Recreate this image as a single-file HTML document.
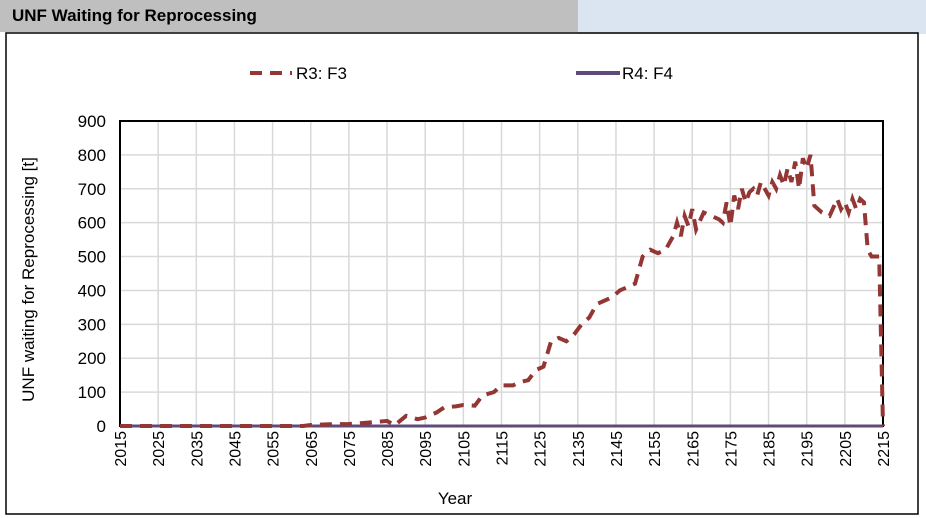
<!DOCTYPE html>
<html><head><meta charset="utf-8"><style>
body{margin:0;width:926px;height:518px;background:#fff;font-family:"Liberation Sans",sans-serif;overflow:hidden;position:relative}
</style></head><body>
<div style="position:absolute;left:578px;top:0;width:348px;height:34px;background:#dbe5f1"></div>
<div style="position:absolute;left:0;top:0;width:578px;height:32px;background:#bfbfbf;font-weight:bold;font-size:17px;line-height:32px;padding-left:12px;box-sizing:border-box">UNF Waiting for Reprocessing</div>
<svg style="position:absolute;left:0;top:0" width="926" height="518" id="svg"></svg>
<script>
const years=[2015,2063,2065,2070,2075,2080,2085,2087,2090,2093,2095,2098,2100,2103,2105,2108,2110,2113,2115,2118,2120,2122,2124,2126,2128,2130,2132,2134,2136,2138,2140,2142,2144,2146,2148,2150,2152,2154,2156,2158,2160,2161,2162,2163,2164,2165,2166,2168,2170,2172,2173,2174,2175,2176,2177,2178,2179,2180,2181,2182,2183,2184,2185,2186,2187,2188,2189,2190,2191,2192,2193,2194,2195,2196,2197,2199,2201,2203,2204,2205,2206,2207,2208,2209,2210,2211,2212,2214,2215];
const r3=[0,0,3,5,6,10,15,2,30,20,25,40,55,58,62,60,90,100,120,120,130,135,165,175,250,260,250,270,300,320,360,370,380,400,410,420,500,520,510,520,560,600,560,620,590,640,580,630,620,610,600,660,590,680,640,700,660,690,700,680,720,700,680,720,700,740,710,760,720,780,700,790,760,800,650,630,620,670,640,660,630,670,640,670,660,520,500,500,0];
const r4=years.map(()=>0);
const yTicks=[0,100,200,300,400,500,600,700,800,900];
const xTicks=[2015,2025,2035,2045,2055,2065,2075,2085,2095,2105,2115,2125,2135,2145,2155,2165,2175,2185,2195,2205,2215];
const L=120,R=883,T=121,B=426;
const sx=v=>L+(v-2015)/200*(R-L), sy=v=>B-v/900*(B-T);
const svg=document.getElementById('svg');const NS='http://www.w3.org/2000/svg';
function mk(t,a,p){const e=document.createElementNS(NS,t);for(const k in a)e.setAttribute(k,a[k]);(p||svg).appendChild(e);return e;}
const frame=mk('rect',{x:6,y:33,width:912,height:481,fill:'none',stroke:'#000','stroke-width':1.5});


yTicks.forEach(v=>{const g=mk('line',{x1:L,x2:R,y1:sy(v),y2:sy(v),stroke:'#d9d9d9','stroke-width':1.5});


const t=mk('text',{x:106,y:sy(v)+6,'text-anchor':'end','font-size':17});t.textContent=v;

});
xTicks.forEach(v=>{const g=mk('line',{x1:sx(v),x2:sx(v),y1:T,y2:B,stroke:'#d9d9d9','stroke-width':1.5});


const t=mk('text',{x:0,y:0,'text-anchor':'end','font-size':16,transform:`translate(${sx(v)+6},${B+5}) rotate(-90)`});t.textContent=v;

});
const ax=mk('rect',{x:L,y:T,width:R-L,height:B-T,fill:'none',stroke:'#000','stroke-width':2});


const pts=a=>years.map((y,i)=>sx(y)+','+sy(a[i])).join(' ');
const l4=mk('polyline',{points:pts(r4),fill:'none',stroke:'#5f4b7a','stroke-width':3});


const l3=mk('polyline',{points:pts(r3),fill:'none',stroke:'#943634','stroke-width':4,'stroke-dasharray':'12 8'});


const yt=mk('text',{x:0,y:0,'text-anchor':'middle','font-size':17,transform:`translate(34,${(T+B)/2+6}) rotate(-90)`});yt.textContent='UNF waiting for Reprocessing [t]';


const xt=mk('text',{x:455,y:504,'text-anchor':'middle','font-size':17});xt.textContent='Year';


const lg1=mk('line',{x1:250,x2:292,y1:73,y2:73,stroke:'#943634','stroke-width':4,'stroke-dasharray':'12 8'});


const lt1=mk('text',{x:296,y:79,'font-size':17});lt1.textContent='R3: F3';


const lg2=mk('line',{x1:576,x2:620,y1:73,y2:73,stroke:'#5f4b7a','stroke-width':4});


const lt2=mk('text',{x:622,y:79,'font-size':17});lt2.textContent='R4: F4';


</script>
</body></html>
